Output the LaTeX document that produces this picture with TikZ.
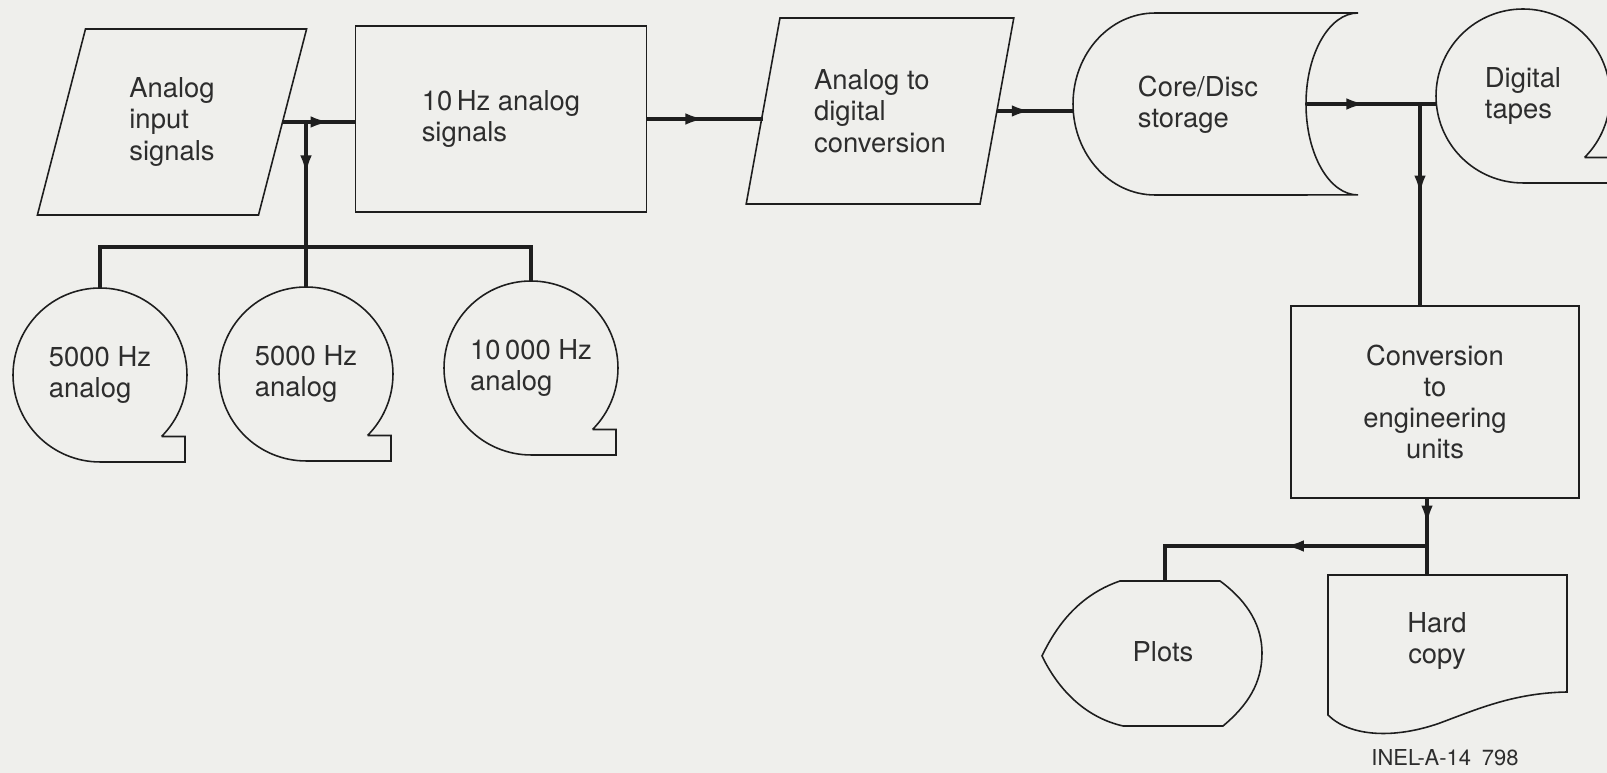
\documentclass[tikz,border=0pt]{standalone}
\usepackage{fontspec}
\setmainfont{TeX Gyre Heros}
\usetikzlibrary{shapes.geometric,arrows.meta,decorations.markings}
\definecolor{colorpaper}{RGB}{239,239,236}
\definecolor{colorline} {RGB}{30 ,30 ,30 }
\definecolor{colortext} {RGB}{45 ,45 ,45 }

\begin{document}
\begin{tikzpicture}[
    x=0.02cm, y=0.02cm,
    font={\fontsize{15.6}{17.8}\selectfont},
    base/.style={text=colortext,align=left,inner sep=0pt,outer sep=0pt},
    box/.style={base,draw=colorline,line width=0.9pt,rectangle},
    slant/.style={base,draw=colorline,line width=0.9pt,trapezium,trapezium left angle=75,trapezium right angle=105,trapezium stretches=true,minimum width=5.4cm,minimum height=3.72cm},
    tape/.style={base,circle,minimum size=3.48cm},
    outline/.style={draw=colorline,line width=0.9pt},
    flow/.style={draw=colorline,line width=2pt},
    midarrow/.style={postaction={decorate},decoration={markings,mark=at position #1 with {\arrow{Latex[length=11pt,width=6.5pt]}}}},
]

    % Paper
    \fill[colorpaper] (0,0) rectangle (1607,773);
    \useasboundingbox (0,0) rectangle (1607,773);

    % Top row
    \node[slant] at (172,651) (input) {Analog\\input\\signals};
    \node[box,minimum width=5.82cm,minimum height=3.72cm] at (501,654) (sig10) {10\,Hz analog\\signals};
    \node[slant] at (880,662) (adc) {Analog to\\digital\\conversion};
    \node[base] at (1198,668) (store) {Core/Disc\\storage};
    \coordinate (store-w) at (1073,669);
    \coordinate (store-e) at (1306,669);
    \draw[outline] (1155,760) -- (1358,760) arc[start angle=90,end angle=270,x radius=1.04cm,y radius=1.82cm]
        -- (1155,578) arc[start angle=270,end angle=90,x radius=1.64cm,y radius=1.82cm] -- cycle;
    \node[tape] at (1523,677) (tapes) {Digital\\tapes};

    % Analog tapes
    \node[tape] at (100,398) (a1) {5000 Hz\\analog};
    \node[tape] at (306,399) (a2) {5000 Hz\\analog};
    \node[tape] at (531,405) (a3) {10\,000 Hz\\analog};
    \foreach \t in {a1,a2,a3,tapes}
        \draw[outline] (\t.-45) arc[start angle=-45,end angle=270,radius=1.74cm] -- ++(85,0) |- (\t.-45);

    % Output side
    \node[box,align=center,minimum width=5.76cm,minimum height=3.84cm] at (1435,371) (conv) {Conversion\\to\\engineering\\units};
    \node[base] at (1163,121) (plots) {Plots};
    \coordinate (plots-n) at (1165,192);
    \draw[outline] (1120,192) -- (1220,192) .. controls (1250,170) and (1262,145) .. (1262,120)
        .. controls (1262,90) and (1248,68) .. (1223,47) -- (1123,47)
        .. controls (1088,55) and (1060,80) .. (1042,117)
        .. controls (1060,155) and (1085,180) .. (1120,192) -- cycle;
    \node[base,align=center] at (1437,132) (hard) {Hard\\copy};
    \coordinate (hard-n) at (1427,198);
    \draw[outline] (1328,198) -- (1567,198) -- (1567,81)
        .. controls (1515,80) and (1480,65) .. (1440,50)
        .. controls (1395,34) and (1350,36) .. (1328,58) -- cycle;
    \node[base,font={\fontsize{12.5}{14}\selectfont}] at (1445,15) (inel) {INEL-A-14\enspace 798};

    % Flow lines
    \coordinate (split1) at (input.east -| a2.north);
    \coordinate (bus) at (306,526);
    \draw[flow,midarrow=0.65] (input.east) -- (input.east -| sig10.west);
    \draw[flow,midarrow=0.32] (split1) -- (a2.north);
    \draw[flow] (a1.north) |- (bus) -| (a3.north);
    \draw[flow,midarrow=0.5] (sig10.east) -- (sig10.east -| adc.west);
    \draw[flow,midarrow=0.45] (adc.east) -- (adc.east -| store-w);
    \coordinate (split2) at (1420,669);
    \draw[flow,midarrow=0.46] (store-e) -- (store-e -| tapes.west);
    \draw[flow,midarrow=0.45] (split2) -- (split2 |- conv.north);
    \coordinate (split3) at (1427,227);
    \draw[flow,midarrow=0.35] (hard-n |- conv.south) -- (hard-n);
    \draw[flow,midarrow=0.48] (split3) -| (plots-n);

\end{tikzpicture}
\end{document}
